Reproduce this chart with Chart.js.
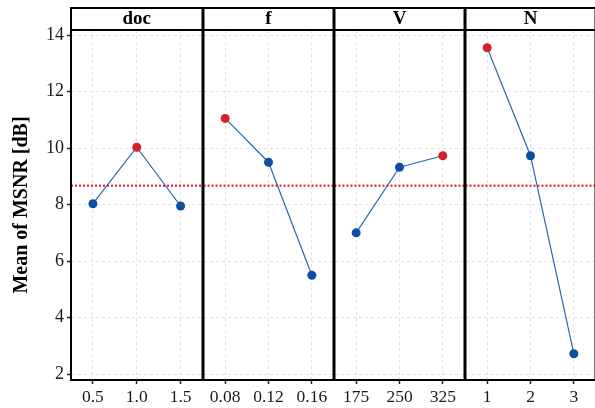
<!DOCTYPE html>
<html><head><meta charset="utf-8">
<script src="https://cdn.jsdelivr.net/npm/chart.js@4"></script>
<style>
body{margin:0;background:#fff}
#wrap{position:relative;width:595px;height:408px;overflow:hidden;background:#fff}
canvas{position:absolute;top:0}
</style></head>
<body><div id="wrap"></div>
<script>
const factors = ['doc', 'f', 'V', 'N'];
const docLevels = ['0.5', '1.0', '1.5'];
const fLevels = ['0.08', '0.12', '0.16'];
const vLevels = ['175', '250', '325'];
const nLevels = ['1', '2', '3'];
const docMeans = [8.03, 10.03, 7.95];
const fMeans = [11.05, 9.50, 5.50];
const vMeans = [7.00, 9.32, 9.73];
const nMeans = [13.55, 9.73, 2.72];
const overallMean = 8.67;
const yTicks = [2, 4, 6, 8, 10, 12, 14];

const levelsList = [docLevels, fLevels, vLevels, nLevels];
const meansList = [docMeans, fMeans, vMeans, nMeans];

const panelLeft = [71, 203, 334, 465];
const panelRight = [203, 334, 465, 596];
const EXT = 4;
const BLUE = '#0c4fa2', LINE = '#2b68b4', RED = '#d3202d';
const SERIF = '"Liberation Serif", "DejaVu Serif", serif';

const wrap = document.getElementById('wrap');

factors.forEach((name, k) => {
  const first = k === 0;
  const cLeft = first ? 0 : panelLeft[k] - EXT;
  const cWidth = panelRight[k] + EXT - cLeft;
  const cv = document.createElement('canvas');
  cv.width = cWidth; cv.height = 408;
  cv.style.left = cLeft + 'px';
  cv.style.width = cWidth + 'px'; cv.style.height = '408px';
  wrap.appendChild(cv);

  const levels = levelsList[k];
  const means = meansList[k];
  const maxV = Math.max(...means);

  const stripPlugin = {
    id: 'strip' + k,
    afterDraw(chart) {
      const {ctx, chartArea: a} = chart;
      ctx.save();
      ctx.fillStyle = '#fff';
      ctx.fillRect(a.left, 8, a.right - a.left, 22);
      ctx.strokeStyle = '#000';
      ctx.lineWidth = 2;
      ctx.beginPath();
      ctx.moveTo(a.left - 1, 8); ctx.lineTo(a.right + 1, 8);
      ctx.moveTo(a.left - 1, 30); ctx.lineTo(a.right + 1, 30);
      ctx.moveTo(a.left, 8); ctx.lineTo(a.left, a.bottom);
      ctx.moveTo(a.right, 8); ctx.lineTo(a.right, a.bottom);
      ctx.stroke();
      ctx.fillStyle = '#000';
      ctx.font = 'bold 19px ' + SERIF;
      ctx.textAlign = 'center';
      ctx.textBaseline = 'middle';
      ctx.fillText(name, (a.left + a.right) / 2, 19.5);
      ctx.restore();
    }
  };

  new Chart(cv, {
    type: 'line',
    data: {
      datasets: [
        {
          data: means.map((v, i) => ({x: i, y: v})),
          borderColor: LINE,
          borderWidth: 1.2,
          pointRadius: 4.5,
          pointBorderWidth: 0,
          pointBackgroundColor: means.map(v => v === maxV ? RED : BLUE),
          order: 1
        },
        {
          data: [{x: -0.5, y: overallMean}, {x: 2.5, y: overallMean}],
          borderColor: '#e0141e',
          borderWidth: 2,
          borderDash: [2, 2],
          pointRadius: 0,
          order: 0
        }
      ]
    },
    options: {
      responsive: false,
      animation: false,
      devicePixelRatio: 1,
      layout: {padding: {top: 30, bottom: 0, left: first ? 0 : EXT, right: EXT}},
      plugins: {legend: {display: false}, tooltip: {enabled: false}},
      scales: {
        x: {
          type: 'linear', min: -0.5, max: 2.5,
          afterBuildTicks: s => { s.ticks = [0, 1, 2].map(v => ({value: v})); },
          afterFit: s => { s.height = 28; },
          ticks: {
            callback: v => levels[v],
            autoSkip: false, maxRotation: 0, padding: 3,
            color: '#1a1a1a',
            font: {family: SERIF, size: 17.5}
          },
          grid: {
            color: '#e2e2e2', lineWidth: 1,
            drawTicks: true, tickLength: 4, tickColor: '#222', tickWidth: 1.5, tickBorderDash: []
          },
          border: {display: true, color: '#000', width: 2, dash: [3, 3]}
        },
        y: {
          type: 'linear', min: 1.79, max: 14.18,
          afterBuildTicks: s => { s.ticks = yTicks.map(v => ({value: v})); },
          afterFit: s => { s.width = first ? 71 : 0; },
          ticks: {
            display: first,
            padding: 3,
            color: '#1a1a1a',
            font: {family: SERIF, size: 18}
          },
          grid: {
            color: '#e2e2e2', lineWidth: 1,
            drawTicks: first, tickLength: 4, tickColor: '#222', tickWidth: 1.5, tickBorderDash: []
          },
          border: {display: first, color: '#000', width: 2, dash: [3, 3]},
          title: {
            display: first,
            text: 'Mean of MSNR [dB]',
            color: '#000',
            font: {family: SERIF, size: 20, weight: 'bold'},
            padding: {top: 10, bottom: 0}
          }
        }
      }
    },
    plugins: [stripPlugin]
  });
});
</script>
</body></html>
